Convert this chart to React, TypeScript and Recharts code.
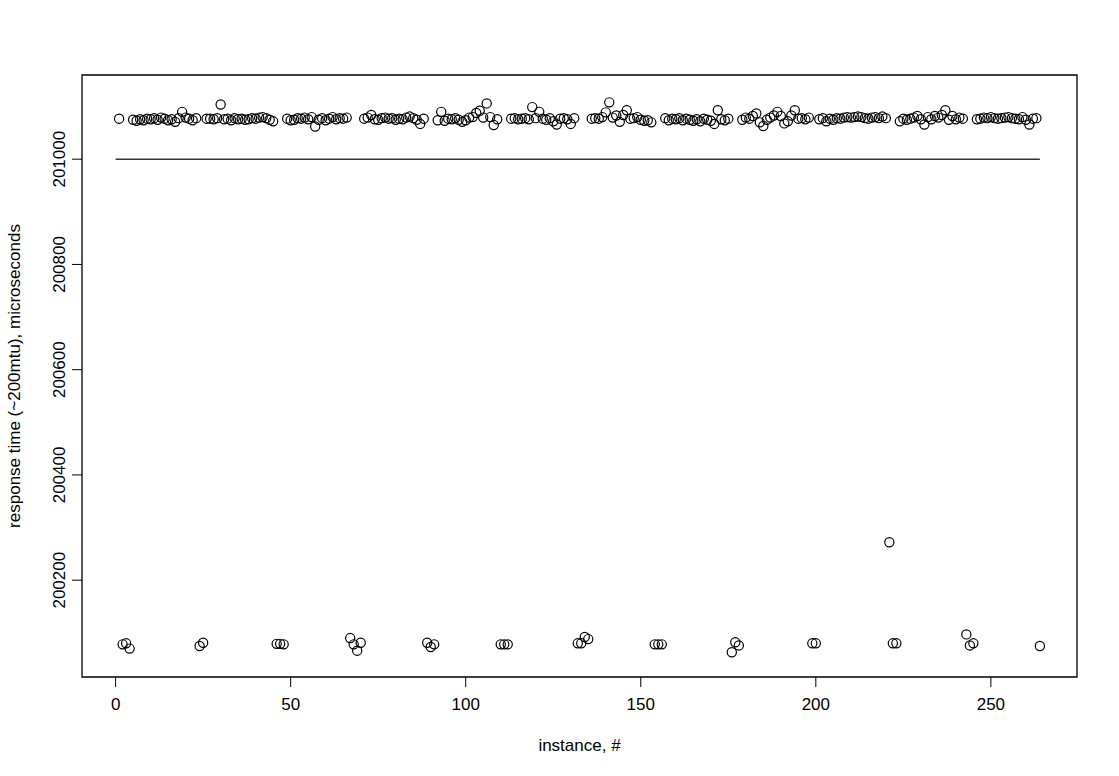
import { ScatterChart, Scatter, XAxis, YAxis, ReferenceLine, ReferenceArea } from "recharts";

// response time per instance (1..264), microseconds
const responseTime = [
  201077, 200078, 200080, 200070,
  201075, 201073, 201076, 201074, 201077, 201076, 201078, 201075, 201079, 201077,
  201074, 201076, 201071, 201078, 201090, 201079, 201077, 201074, 201078,
  200075, 200081,
  201077, 201077, 201076, 201078, 201104, 201076, 201077, 201074, 201078, 201076,
  201077, 201075, 201076, 201078, 201077, 201079, 201080, 201078, 201075, 201072,
  200079, 200079, 200078,
  201077, 201074, 201075, 201078, 201077, 201079, 201076, 201080, 201062, 201075,
  201078, 201074, 201077, 201080, 201076, 201078, 201077, 201079,
  200090, 200078, 200066, 200081,
  201077, 201079, 201084, 201076, 201075, 201078, 201079, 201077, 201078, 201075,
  201077, 201076, 201079, 201081, 201078, 201075, 201067, 201077,
  200081, 200073, 200078,
  201074, 201090, 201073, 201077, 201076, 201078, 201075, 201071, 201074, 201079,
  201080, 201088, 201092, 201079, 201106, 201080, 201065, 201076,
  200078, 200078, 200078,
  201077, 201078, 201076, 201077, 201078, 201076, 201099, 201078, 201090, 201077,
  201075, 201078, 201072, 201066, 201077, 201078, 201076, 201067, 201078,
  200080, 200080, 200092, 200088,
  201077, 201078, 201077, 201080, 201089, 201108, 201079, 201083, 201071, 201084,
  201093, 201077, 201078, 201080, 201075, 201073, 201074, 201070,
  200078, 200078, 200078,
  201078, 201074, 201077, 201076, 201078, 201074, 201077, 201075, 201073, 201076,
  201072, 201077, 201075, 201073, 201067, 201093, 201076, 201074, 201077,
  200063, 200082, 200076,
  201075, 201079, 201077, 201082, 201087, 201070, 201063, 201075, 201079, 201083,
  201090, 201082, 201068, 201072, 201083, 201093, 201077, 201078, 201076, 201079,
  200080, 200080,
  201076, 201078, 201072, 201077, 201075, 201078, 201077, 201079, 201080, 201079,
  201080, 201081, 201080, 201078, 201077, 201079, 201080, 201078, 201081, 201078,
  200272, 200080, 200080,
  201072, 201077, 201075, 201077, 201079, 201082, 201076, 201066, 201080, 201076,
  201082, 201079, 201084, 201093, 201075, 201082, 201076, 201079, 201077,
  200097, 200076, 200080,
  201076, 201077, 201079, 201078, 201080, 201078, 201077, 201078, 201079, 201080,
  201078, 201077, 201076, 201080, 201075, 201066, 201077, 201078,
  200075,
];

const xTicks = [0, 50, 100, 150, 200, 250];
const yTicks = [200200, 200400, 200600, 200800, 201000];
const thresholdValue = 201000;
const thresholdSpan = [0, 264];

const X_DOMAIN = [-9.6, 274.6];
const Y_DOMAIN = [200016, 201160];

const FONT = "'Liberation Sans', Arial, Helvetica, sans-serif";

const points = responseTime.map((value, i) => ({ instance: i + 1, value }));

const OpenCircle = (props: any) => (
  <circle cx={props.cx} cy={props.cy} r={4.6} fill="none" stroke="#000" strokeWidth={1.2} />
);

const YTick = ({ x, y, payload }: any) => (
  <text
    x={x}
    y={y}
    textAnchor="middle"
    transform={`rotate(-90, ${x}, ${y})`}
    fontSize={17}
    fontFamily={FONT}
    fill="#000"
  >
    {payload.value}
  </text>
);

export default function App() {
  return (
    <div style={{ position: "absolute", left: 0, top: 0, background: "#fff" }}>
      <ScatterChart width={1119} height={776} margin={{ top: 75, right: 42, left: 0, bottom: 0 }}>
        <XAxis
          type="number"
          dataKey="instance"
          domain={X_DOMAIN}
          ticks={xTicks}
          allowDataOverflow
          axisLine={false}
          tickLine={{ stroke: "#000" }}
          tickSize={10}
          tickMargin={11}
          height={99}
          tick={{ fontSize: 17, fontFamily: FONT, fill: "#000" }}
          label={{
            value: "instance, #",
            position: "insideBottom",
            offset: 25,
            style: { fontSize: 17, fontFamily: FONT, fill: "#000" },
          }}
        />
        <YAxis
          type="number"
          dataKey="value"
          domain={Y_DOMAIN}
          ticks={yTicks}
          allowDataOverflow
          axisLine={false}
          tickLine={{ stroke: "#000" }}
          tickSize={10}
          tickMargin={7}
          width={82}
          tick={<YTick />}
          label={{
            value: "response time (~200mtu), microseconds",
            position: "insideLeft",
            angle: -90,
            offset: 14,
            style: { fontSize: 17, fontFamily: FONT, fill: "#000", textAnchor: "middle" },
          }}
        />
        <ReferenceArea
          x1={X_DOMAIN[0]}
          x2={X_DOMAIN[1]}
          y1={Y_DOMAIN[0]}
          y2={Y_DOMAIN[1]}
          fill="none"
          stroke="#000"
          strokeWidth={1.3}
          fillOpacity={0}
        />
        <ReferenceLine
          segment={[
            { x: thresholdSpan[0], y: thresholdValue },
            { x: thresholdSpan[1], y: thresholdValue },
          ]}
          stroke="#333"
          strokeWidth={1.6}
        />
        <Scatter data={points} shape={<OpenCircle />} isAnimationActive={false} />
      </ScatterChart>
    </div>
  );
}
